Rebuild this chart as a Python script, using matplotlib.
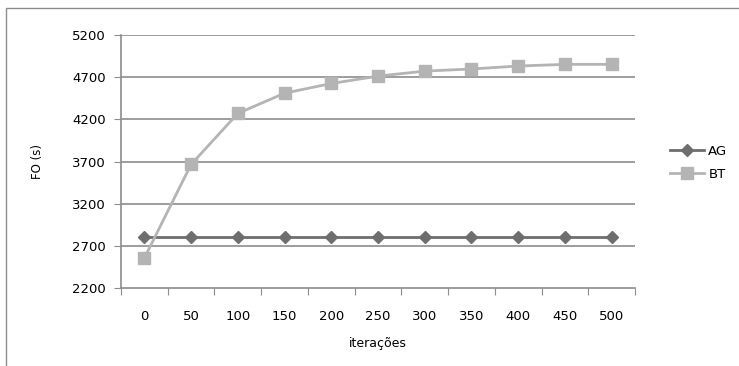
import matplotlib.pyplot as plt
import numpy as np
from matplotlib.patches import Rectangle

plt.rcParams.update({
    "font.family": 'DejaVu Sans',
    "font.size": 9,
    "axes.spines.top": False,
    "axes.spines.right": False,
})

iteracoes = ['0', '50', '100', '150', '200', '250', '300', '350', '400', '450', '500']
ag = [2800, 2800, 2800, 2800, 2800, 2800, 2800, 2800, 2800, 2800, 2800]
bt = [2555, 3665, 4270, 4510, 4625, 4712, 4772, 4797, 4832, 4852, 4852]
yticks = [2200, 2700, 3200, 3700, 4200, 4700, 5200]

fig = plt.figure(figsize=(7.39, 3.66), dpi=100)
fig.patches.append(Rectangle((6 / 739, -0.1), 1.2, 1 - 8 / 366 + 0.1,
                             transform=fig.transFigure, fill=False,
                             edgecolor='#8c8c8c', linewidth=1.0))
ax = fig.add_axes([121 / 739, 1 - 288 / 366, (635 - 121) / 739, (288 - 35) / 366])

x = np.arange(len(iteracoes))
ax.plot(x, ag, color='#6e6e6e', marker='D', markersize=6, linewidth=2, label='AG', zorder=3)
ax.plot(x, bt, color='#b4b4b4', marker='s', markersize=8, linewidth=2, label='BT', zorder=3)

ax.set_xlim(-0.5, len(iteracoes) - 0.5)
ax.set_ylim(2200, 5200)
ax.set_yticks(yticks)
ax.set_yticklabels([str(v) for v in yticks], fontsize=9.5)
for v in yticks[1:]:
    ax.axhline(v, color='#8c8c8c', linewidth=1.2, zorder=1)

ax.set_xticks(np.arange(-0.5, len(iteracoes), 1.0))
ax.set_xticklabels([])
ax.set_xticks(x, minor=True)
ax.set_xticklabels(iteracoes, minor=True, fontsize=9.5)
ax.tick_params(axis='x', which='major', length=5, color='#8c8c8c')
ax.tick_params(axis='x', which='minor', length=0, pad=16)
ax.tick_params(axis='y', length=5, color='#8c8c8c', pad=6)

for s in ['left', 'bottom']:
    ax.spines[s].set_color('#8c8c8c')
    ax.spines[s].set_linewidth(1.2)

ax.set_xlabel('iterações', fontsize=9, labelpad=10)
ax.set_ylabel('FO (s)', fontsize=8.5, labelpad=20)

ax.legend(loc='center left', bbox_to_anchor=(1.045, 0.494), frameon=False,
          fontsize=9.5, handlelength=2.6, handletextpad=0.3, labelspacing=0.75)

fig.savefig('out.png', dpi=100)
